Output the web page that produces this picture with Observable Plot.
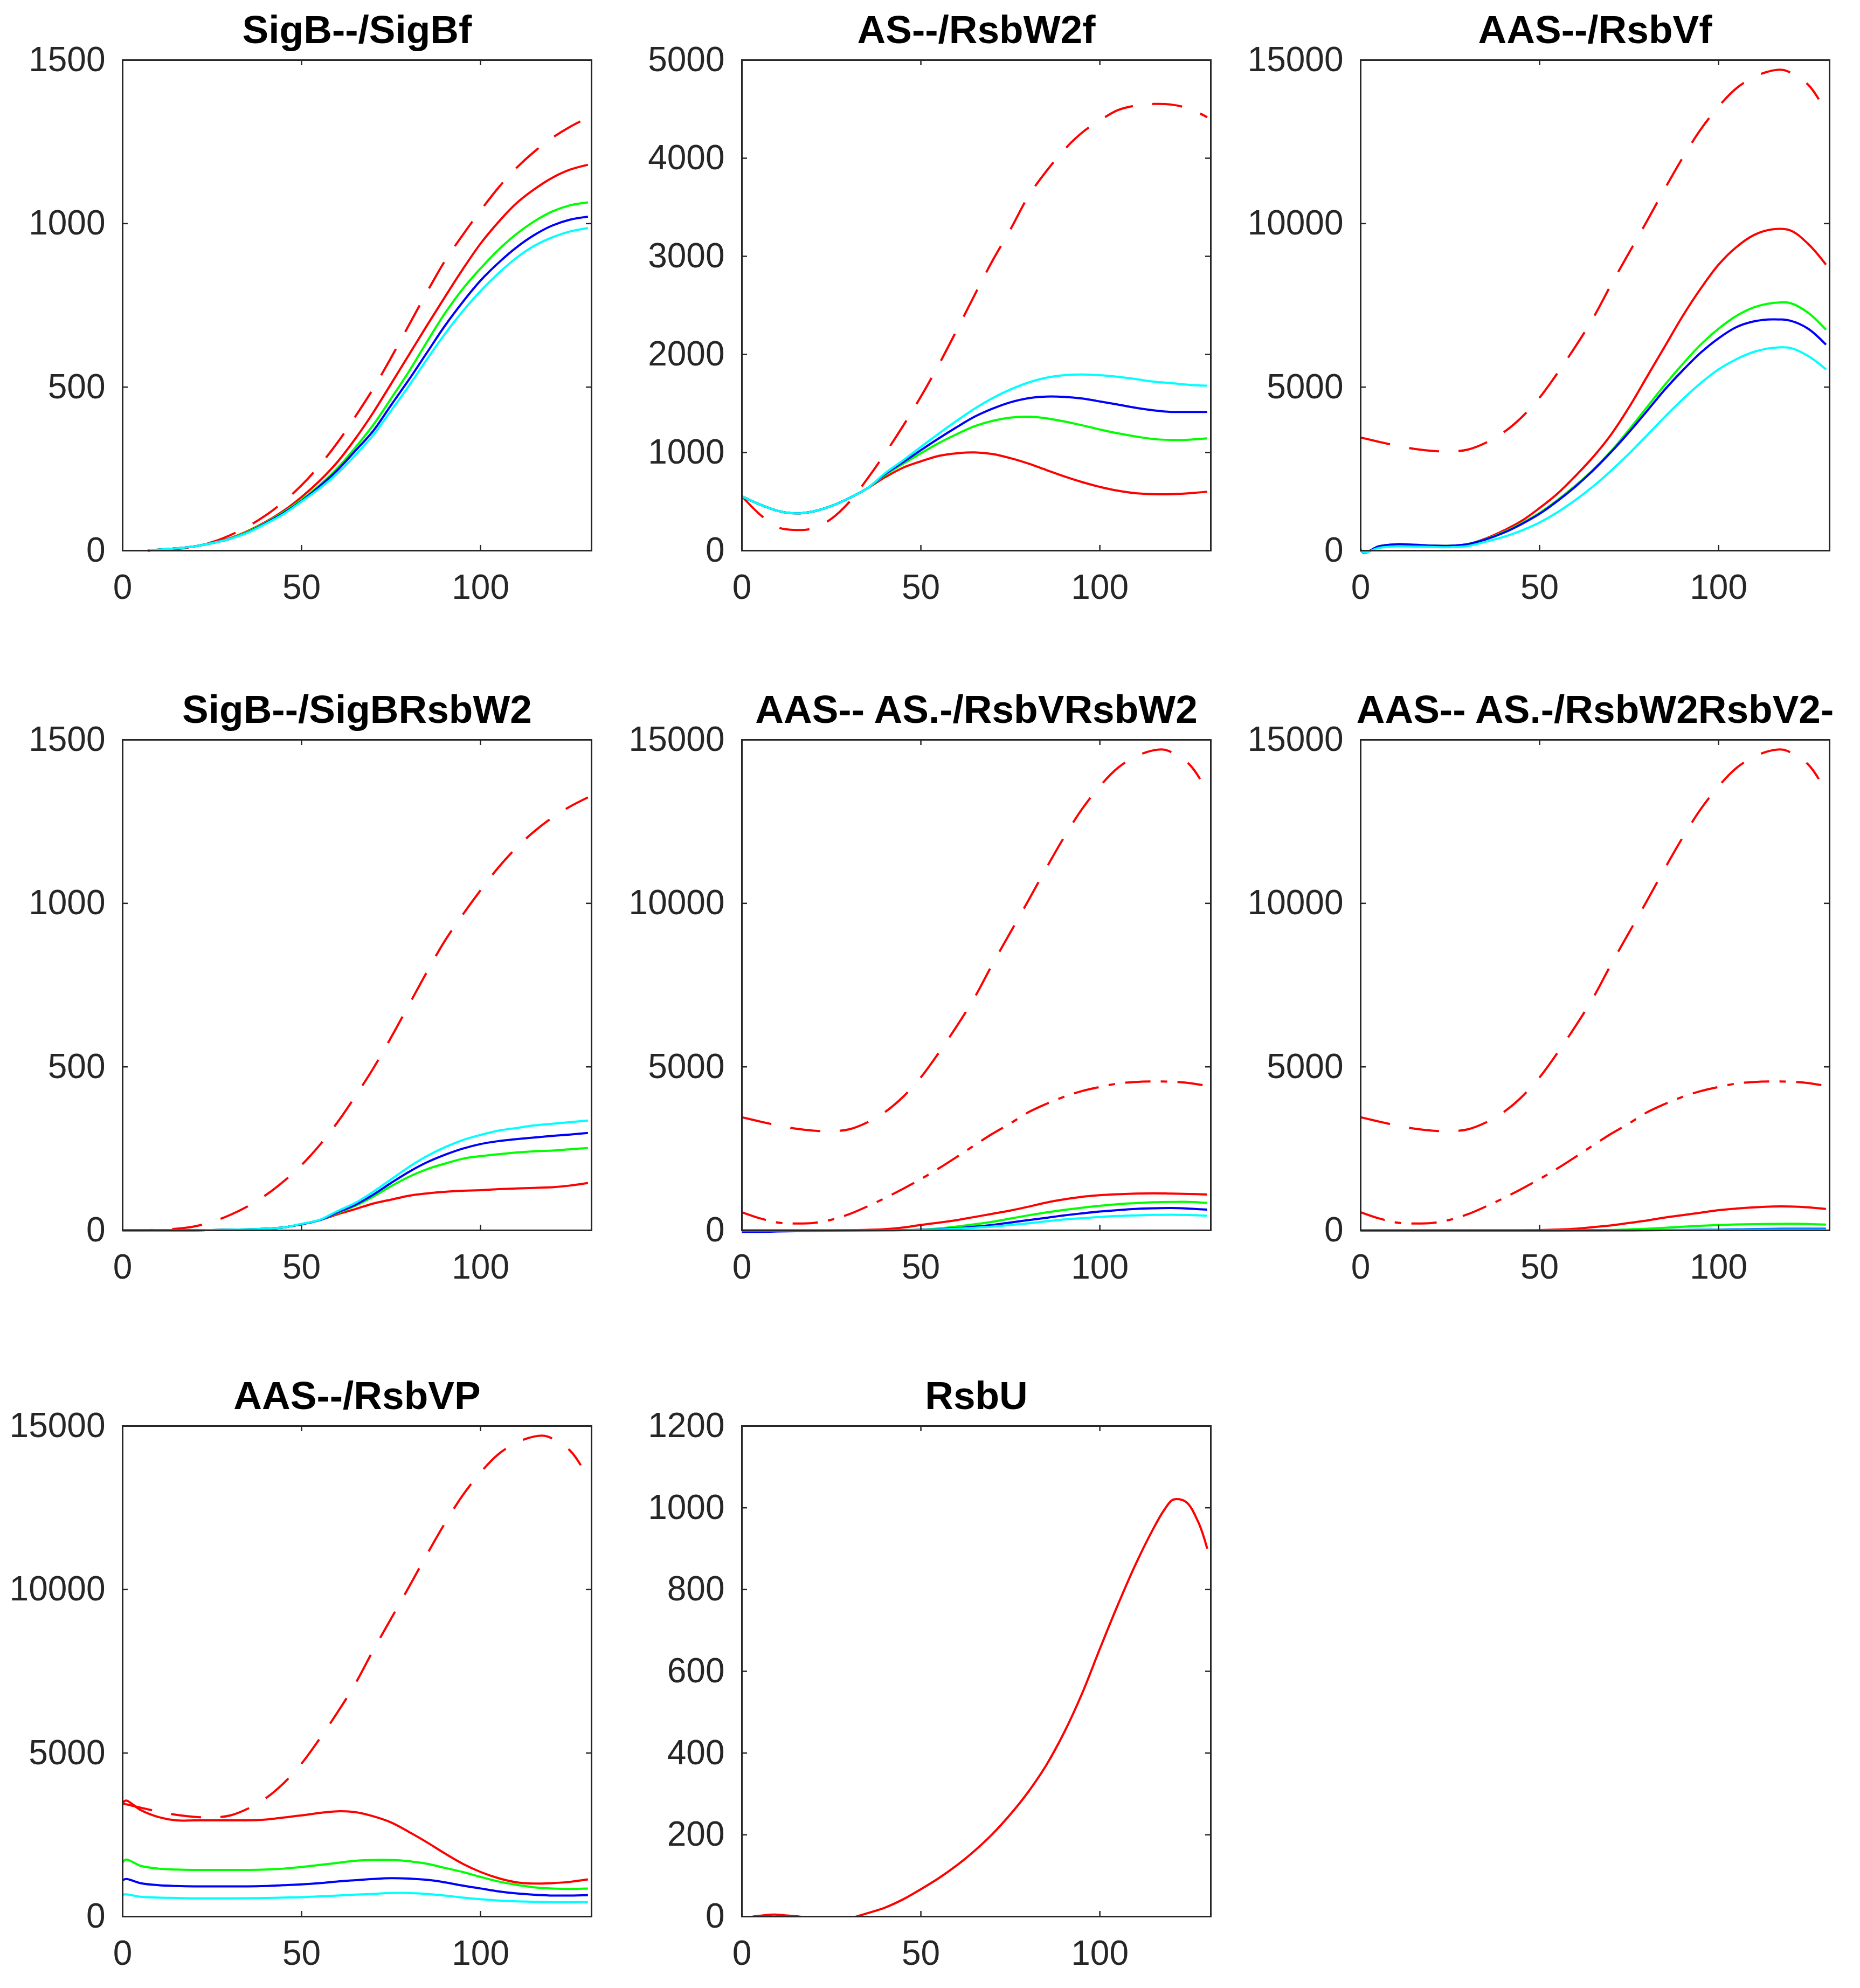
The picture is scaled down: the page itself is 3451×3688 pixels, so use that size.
<!DOCTYPE html>
<html>
<head>
<meta charset="utf-8">
<script src="https://cdn.jsdelivr.net/npm/d3@7"></script>
<script src="https://cdn.jsdelivr.net/npm/@observablehq/plot@0.6"></script>
<style>
  html, body { margin: 0; padding: 0; background: #ffffff; }
  #fig { position: relative; width: 3451px; height: 3688px; background: #ffffff; overflow: hidden; }
  .panel { position: absolute; }
</style>
</head>
<body>
<div id="fig"></div>
<script>
// ---------------- data ----------------
const t  = [0,5,10,15,20,25,30,35,40,45,50,55,60,65,70,75,80,85,90,95,100,105,110,115,120,125,130];
const t1 = [7,10,15,20,25,30,35,40,45,50,55,60,65,70,75,80,85,90,95,100,105,110,115,120,125,130];
const t3 = [0,1,5,10,15,20,25,30,35,40,45,50,55,60,65,70,75,80,85,90,95,100,105,110,115,120,125,130];
const tD = [0,5,10,15,20,25,30,35,40,45,50,55,60,65,70,75,80,85,90,95,100,105,110,115,118,120,125,128];
const tU = [3,6,9,12,16,20,25,30,32,35,40,45,50,55,60,65,70,75,80,85,90,95,100,105,110,115,118,120.5,124,127.5,130];

const titles = ["SigB--/SigBf","AS--/RsbW2f","AAS--/RsbVf","SigB--/SigBRsbW2",
                "AAS-- AS.-/RsbVRsbW2","AAS-- AS.-/RsbW2RsbV2-","AAS--/RsbVP","RsbU"];

const xTicks = [0,50,100];
const yTicks1500 = [0,500,1000,1500];
const yTicks5000 = [0,1000,2000,3000,4000,5000];
const yTicks15000 = [0,5000,10000,15000];
const yTicks1200 = [0,200,400,600,800,1000,1200];

// reference (dashed / dash-dot) curves
const sigbDashed  = [0,0,2,5,12,26,47,74,108,150,200,260,330,410,495,590,690,790,885,965,1040,1110,1170,1220,1262,1296,1324];
const rsbw2Dashed = [555,370,238,210,228,325,495,730,990,1270,1570,1895,2245,2605,2955,3272,3610,3865,4085,4260,4385,4490,4537,4553,4546,4505,4418];
const aasDashed   = [3460,3330,3210,3110,3050,3030,3090,3300,3620,4080,4680,5430,6240,7120,8140,9110,10080,11070,12020,12880,13580,14140,14490,14680,14700,14620,14250,13800];

// panel 1: SigB--/SigBf (x = t1)
const p1Red   = [0,3,7,13,24,38,60,88,122,164,213,271,342,422,510,599,688,775,860,939,1005,1062,1105,1140,1165,1180];
const p1Green = [0,3,7,13,23,37,58,86,118,156,200,252,315,384,465,548,638,725,800,863,920,968,1007,1037,1056,1065];
const p1Blue  = [0,3,7,13,23,36,56,84,115,152,196,246,305,366,445,523,605,687,760,826,880,927,965,994,1012,1021];
const p1Cyan  = [0,3,7,13,23,36,55,82,112,150,190,236,292,353,428,504,585,662,732,794,848,895,932,958,976,986];

// panel 2: AS--/RsbW2f (x = t)
const p2Red   = [553,471,406,380,400,455,536,634,748,845,910,966,992,1001,985,943,888,822,757,699,650,611,585,575,575,585,601];
const p2Green = [553,471,406,380,400,455,536,634,770,884,992,1096,1187,1268,1323,1356,1365,1349,1317,1278,1235,1196,1164,1138,1128,1131,1144];
const p2Blue  = [553,471,406,380,400,455,536,634,780,900,1024,1144,1258,1365,1447,1512,1554,1570,1567,1551,1521,1489,1456,1430,1414,1414,1414];
const p2Cyan  = [553,471,406,380,400,455,536,634,790,920,1057,1193,1323,1447,1554,1642,1713,1762,1788,1795,1788,1772,1749,1723,1707,1690,1681];

// panel 3: AAS--/RsbVf (x = t3)
const p3Red   = [30,-70,127,190,175,150,147,200,372,617,911,1303,1743,2282,2870,3555,4388,5318,6249,7179,8012,8746,9285,9657,9824,9794,9383,8746];
const p3Green = [30,-70,127,190,175,150,147,200,353,568,842,1156,1547,1988,2478,3046,3702,4388,5073,5710,6298,6787,7179,7444,7571,7571,7277,6758];
const p3Blue  = [30,-70,127,195,180,152,148,198,343,548,813,1126,1518,1959,2458,3017,3624,4270,4927,5514,6053,6494,6836,7013,7072,7032,6787,6298];
const p3Cyan  = [20,-60,80,130,125,110,105,140,274,421,617,862,1175,1547,1969,2449,2968,3526,4094,4633,5122,5544,5857,6082,6200,6200,5955,5544];

// panel 4: SigB--/SigBRsbW2 (x = t)
const p4Red   = [0,0,0,0,0,1,2,3,5,9,19,31,49,65,82,94,106,113,118,121,123,126,128,130,132,137,145];
const p4Green = [0,0,0,0,0,1,2,3,5,9,19,31,53,75,103,135,164,187,204,219,227,233,238,242,244,248,252];
const p4Blue  = [0,0,0,0,0,1,2,3,5,9,19,31,55,78,109,145,179,208,231,250,264,273,279,284,289,293,298];
const p4Cyan  = [0,0,0,0,0,1,2,3,5,9,20,32,59,84,118,156,194,227,254,276,292,305,313,321,326,331,336];

// panel 5: AAS-- AS.-/RsbVRsbW2 (x = t)
const p5Red   = [0,0,0,0,0,0,5,15,39,88,166,235,313,410,508,606,723,850,948,1026,1075,1104,1124,1134,1124,1114,1095];
const p5Green = [0,0,0,0,0,0,0,2,5,10,20,59,117,186,264,362,459,547,625,694,752,801,831,860,870,870,840];
const p5Blue  = [-45,-45,-35,-25,-15,-8,-3,0,3,8,15,35,68,115,166,240,313,385,459,520,577,620,655,675,684,665,635];
const p5Cyan  = [0,0,0,0,0,0,0,0,2,5,10,25,49,80,117,165,215,275,332,372,410,440,459,472,479,468,450];

// panel 6: AAS-- AS.-/RsbW2RsbV2- (x = t)
const p6Red   = [0,0,0,0,0,0,0,0,0,2,8,25,50,100,151,226,302,390,466,541,617,667,705,730,730,705,654];
const p6Green = [0,0,0,0,0,0,0,0,0,0,0,1,3,7,13,30,50,80,113,140,164,180,189,198,201,195,176];
const p6Blue  = [-10,-10,-10,-10,-10,-10,-10,-10,-10,-10,-10,-8,-6,-4,-2,0,3,8,14,20,25,32,40,47,50,50,50];
const p6Cyan  = [0,0,0,0,0,0,0,0,0,0,0,0,1,2,3,5,7,10,13,16,19,22,24,25,25,25,25];

// panel 7: AAS--/RsbVP (x = t3)
const p7Red   = [3480,3550,3258,3043,2942,2942,2942,2942,2942,2967,3030,3093,3169,3220,3194,3068,2879,2588,2273,1932,1616,1364,1174,1048,1010,1023,1061,1136];
const p7Green = [1654,1742,1553,1465,1439,1427,1427,1427,1427,1439,1465,1515,1578,1641,1705,1730,1730,1692,1616,1490,1364,1212,1073,972,896,859,846,859];
const p7Blue  = [1111,1149,1023,960,934,922,922,922,922,934,960,985,1023,1073,1111,1149,1174,1162,1124,1048,947,859,770,707,669,644,644,657];
const p7Cyan  = [669,680,606,581,568,556,556,556,560,568,580,593,618,644,670,694,720,720,694,644,581,530,492,467,455,442,442,442];

// panel 8: RsbU (x = tU)
const p8Red   = [0,3,5,3,0,-6,-9,-5,0,8,22,42,67,94,125,161,202,250,305,370,450,545,655,762,862,950,995,1020,1015,965,900];

// ---------------- styling / layout ----------------
const RED = "#ff0000", GREEN = "#00ff00", BLUE = "#0000ff", CYAN = "#00ffff";
const DASH = "56,36", DASHDOT = "47,19,12,19";
const FW = 870, FH = 910, ML = 220, MT = 120, MR = 40, MB = 120;
const colLeft = [227, 1376, 2524];
const rowTop  = [111, 1372, 2645];
const FONT = "'Liberation Sans', Arial, Helvetica, sans-serif";
const AXIS = "#262626";

const S = (x, y, color, dash, minX) => ({x, y, color, dash, minX});

const panels = [
  {row:0, col:0, yDomain:[0,1500], yTicks:yTicks1500, series:[
    S(t, sigbDashed, RED, DASH, 7), S(t1, p1Red, RED), S(t1, p1Green, GREEN), S(t1, p1Blue, BLUE), S(t1, p1Cyan, CYAN)]},
  {row:0, col:1, yDomain:[0,5000], yTicks:yTicks5000, series:[
    S(t, rsbw2Dashed, RED, DASH), S(t, p2Red, RED), S(t, p2Green, GREEN), S(t, p2Blue, BLUE), S(t, p2Cyan, CYAN)]},
  {row:0, col:2, yDomain:[0,15000], yTicks:yTicks15000, series:[
    S(tD, aasDashed, RED, DASH), S(t3, p3Red, RED), S(t3, p3Green, GREEN), S(t3, p3Blue, BLUE), S(t3, p3Cyan, CYAN)]},
  {row:1, col:0, yDomain:[0,1500], yTicks:yTicks1500, series:[
    S(t, sigbDashed, RED, DASH), S(t, p4Red, RED), S(t, p4Green, GREEN), S(t, p4Blue, BLUE), S(t, p4Cyan, CYAN)]},
  {row:1, col:1, yDomain:[0,15000], yTicks:yTicks15000, series:[
    S(tD, aasDashed, RED, DASH), S(t, rsbw2Dashed, RED, DASHDOT), S(t, p5Red, RED), S(t, p5Green, GREEN), S(t, p5Blue, BLUE), S(t, p5Cyan, CYAN)]},
  {row:1, col:2, yDomain:[0,15000], yTicks:yTicks15000, series:[
    S(tD, aasDashed, RED, DASH), S(t, rsbw2Dashed, RED, DASHDOT), S(t, p6Red, RED), S(t, p6Green, GREEN), S(t, p6Blue, BLUE), S(t, p6Cyan, CYAN)]},
  {row:2, col:0, yDomain:[0,15000], yTicks:yTicks15000, series:[
    S(tD, aasDashed, RED, DASH), S(t3, p7Red, RED), S(t3, p7Green, GREEN), S(t3, p7Blue, BLUE), S(t3, p7Cyan, CYAN)]},
  {row:2, col:1, yDomain:[0,1200], yTicks:yTicks1200, clip:true, series:[
    S(tU, p8Red, RED)]}
];

const fig = document.getElementById("fig");
const fmt = d3.format("d");

panels.forEach((p, i) => {
  const marks = [];
  for (const s of p.series) {
    const data = s.x.map((x, k) => ({x, y: s.y[k]})).filter(d => s.minX == null || d.x >= s.minX);
    marks.push(Plot.line(data, {
      x: "x", y: "y", stroke: s.color, strokeWidth: 4,
      strokeDasharray: s.dash || null, strokeLinecap: "butt",
      curve: "catmull-rom", clip: p.clip ? true : undefined
    }));
  }
  // inward ticks on all four sides (MATLAB box style)
  marks.push(Plot.tickY(p.yTicks, {y: d => d, insetRight: FW - 10, stroke: AXIS, strokeWidth: 2.5}));
  marks.push(Plot.tickY(p.yTicks, {y: d => d, insetLeft: FW - 10, stroke: AXIS, strokeWidth: 2.5}));
  marks.push(Plot.tickX(xTicks, {x: d => d, insetTop: FH - 10, stroke: AXIS, strokeWidth: 2.5}));
  marks.push(Plot.tickX(xTicks, {x: d => d, insetBottom: FH - 10, stroke: AXIS, strokeWidth: 2.5}));
  marks.push(Plot.frame({stroke: AXIS, strokeWidth: 3}));
  marks.push(Plot.axisY({ticks: p.yTicks, tickSize: 0, tickPadding: 32, fontSize: 64, label: null, tickFormat: fmt, fill: AXIS}));
  marks.push(Plot.axisX({ticks: xTicks, tickSize: 0, tickPadding: 44, fontSize: 64, label: null, tickFormat: fmt, fill: AXIS}));
  marks.push(Plot.text([titles[i]], {
    text: d => d, frameAnchor: "top", dy: -32, lineAnchor: "bottom",
    fontSize: 73, fontWeight: "bold", fill: "#000000"
  }));

  const svg = Plot.plot({
    width: ML + FW + MR, height: MT + FH + MB,
    marginLeft: ML, marginRight: MR, marginTop: MT, marginBottom: MB,
    x: {domain: [0, 131]},
    y: {domain: p.yDomain},
    style: {fontFamily: FONT, color: AXIS, background: "transparent", overflow: "visible"},
    marks
  });
  const div = document.createElement("div");
  div.className = "panel";
  div.style.left = (colLeft[p.col] - ML) + "px";
  div.style.top = (rowTop[p.row] - MT) + "px";
  div.style.width = (ML + FW + MR) + "px";
  div.style.height = (MT + FH + MB) + "px";
  div.appendChild(svg);
  fig.appendChild(div);
});
</script>
</body>
</html>
